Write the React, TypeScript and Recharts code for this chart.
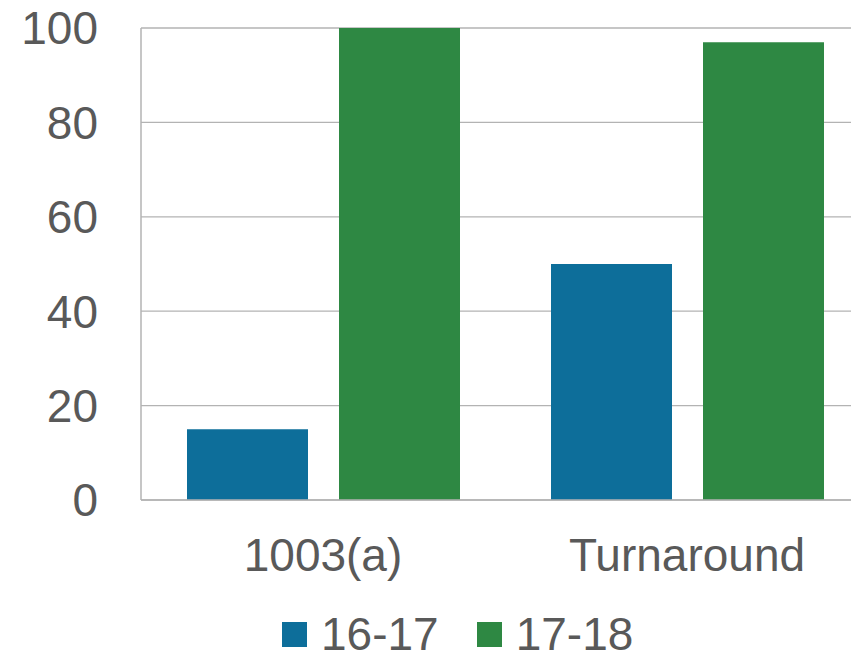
import React from "react";
import { BarChart, Bar, XAxis, YAxis, CartesianGrid } from "recharts";

const categories = ["1003(a)", "Turnaround"];
const series1617 = [15, 50];
const series1718 = [100, 97];
const yTicks = [0, 20, 40, 60, 80, 100];
const seriesNames = ["16-17", "17-18"];
const seriesColors = ["#0d6e9a", "#2e8843"];

const data = categories.map((c, i) => ({
  name: c,
  s1: series1617[i],
  s2: series1718[i],
}));

const FONT = "'Liberation Sans', Arial, sans-serif";
const TEXT = "#595959";
const GRID = "#b3b3b3";

export default function App() {
  return (
    <div
      style={{
        position: "absolute",
        left: 0,
        top: 0,
        width: 851,
        height: 652,
        overflow: "hidden",
        background: "#fff",
        fontFamily: FONT,
      }}
    >
      <BarChart
        width={900}
        height={652}
        data={data}
        margin={{ top: 28, right: 31, left: 0, bottom: 92 }}
        barSize={121}
        barGap={31}
      >
        <CartesianGrid vertical={false} stroke={GRID} strokeWidth={1.3} />
        <XAxis
          dataKey="name"
          height={60}
          tickLine={false}
          tickSize={0}
          tickMargin={38}
          axisLine={{ stroke: GRID, strokeWidth: 1.5 }}
          tick={{ fill: TEXT, fontSize: 46, fontFamily: FONT }}
        />
        <YAxis
          width={141}
          domain={[0, 100]}
          ticks={yTicks}
          tickLine={false}
          tickSize={0}
          tickMargin={43}
          axisLine={{ stroke: GRID, strokeWidth: 1.5 }}
          tick={{ fill: TEXT, fontSize: 46, fontFamily: FONT }}
        />
        <Bar dataKey="s1" name={seriesNames[0]} fill={seriesColors[0]} isAnimationActive={false} />
        <Bar dataKey="s2" name={seriesNames[1]} fill={seriesColors[1]} isAnimationActive={false} />
      </BarChart>
      <div
        style={{
          position: "absolute",
          left: 282,
          top: 617,
          height: 34,
          display: "flex",
          alignItems: "center",
          color: TEXT,
          fontSize: 46,
          fontFamily: FONT,
          whiteSpace: "nowrap",
        }}
      >
        {seriesNames.map((n, i) => (
          <div
            key={n}
            style={{ display: "flex", alignItems: "center", height: 34, marginRight: i === 0 ? 38 : 0 }}
          >
            <div style={{ width: 25, height: 25, background: seriesColors[i], marginRight: 14 }} />
            <span style={{ lineHeight: "34px", height: 34, display: "inline-block" }}>{n}</span>
          </div>
        ))}
      </div>
    </div>
  );
}
